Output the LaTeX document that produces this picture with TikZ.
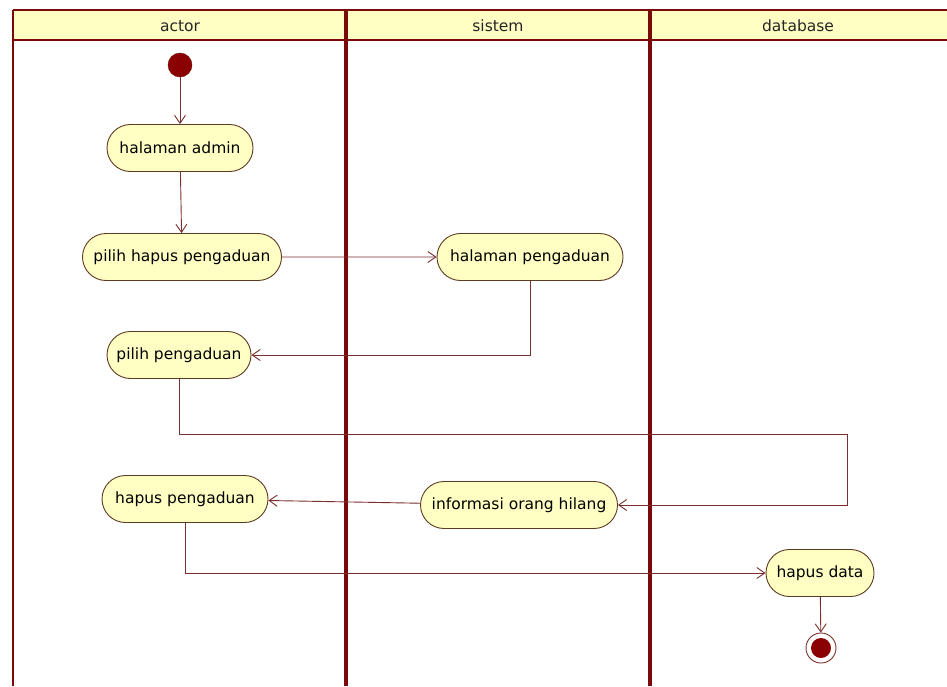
\documentclass[tikz,border=0pt]{standalone}
\usepackage{fontspec}
\setmainfont{DejaVu Sans}
\usetikzlibrary{shapes.misc,arrows.meta}

\definecolor{lane}{HTML}{7A0A0A}
\definecolor{hdrfill}{HTML}{FFFFC4}
\definecolor{actfill}{HTML}{FFFFC4}
\definecolor{actline}{HTML}{5E3A22}
\definecolor{flow}{HTML}{7A2E2E}
\definecolor{dot}{HTML}{8B0000}

\tikzset{
  activity/.style={rounded rectangle, draw=actline, fill=actfill, line width=0.9pt,
    minimum height=47pt, inner xsep=4pt, font=\fontsize{15.5}{18}\selectfont},
  flowline/.style={draw=flow, line width=0.9pt,
    -{Straight Barb[length=8pt,width=11pt,line width=0.9pt]}},
  lanetitle/.style={font=\fontsize{15.5}{18}\selectfont, text=black!85},
}

\begin{document}
\begin{tikzpicture}[x=1pt,y=-1pt]
\useasboundingbox (0,0) rectangle (947,686);
\fill[white] (0,0) rectangle (947,686);

% swimlane header band
\fill[hdrfill] (13,10) rectangle (947,40);
\draw[lane, line width=2pt] (13,10) -- (947,10);
\draw[lane, line width=2pt] (13,40) -- (947,40);

% lane borders
\draw[lane, line width=2.5pt] (13,10) -- (13,686);
\draw[lane, line width=4.5pt] (346,10) -- (346,686);
\draw[lane, line width=4.5pt] (650,10) -- (650,686);

% lane titles
\node[lanetitle] (tActor) at (180,26) {actor};
\node[lanetitle] (tSistem) at (498,26) {sistem};
\node[lanetitle] (tDb) at (798,26) {database};

% activities
\node[circle, fill=dot, draw=dot!80!black, minimum size=24pt, inner sep=0pt] (start) at (180,65) {};
\node[activity, minimum width=154pt] (admin) at (180,148) {halaman admin};
\node[activity, minimum width=207pt] (pilihhapus) at (182,257) {pilih hapus pengaduan};
\node[activity, minimum width=194pt] (halpeng) at (530,257) {halaman pengaduan};
\node[activity, minimum width=152pt] (pilihpeng) at (179,355) {pilih pengaduan};
\node[activity, minimum width=174pt] (hapuspeng) at (185,499) {hapus pengaduan};
\node[activity, minimum width=205pt] (info) at (519,505) {informasi orang hilang};
\node[activity, minimum width=116pt] (hapusdata) at (820,573) {hapus data};
\node[circle, draw=flow, line width=0.9pt, fill=white, minimum size=30pt, inner sep=0pt] (end) at (821,648) {};
\fill[dot] (end.center) circle (10pt);

% bend points
\coordinate (k1) at (847,434);

% control flow
\draw[flowline] (start) -- (admin);
\draw[flowline] (admin) -- (pilihhapus);
\draw[flowline] (pilihhapus) -- (halpeng);
\draw[flowline] (halpeng.south) |- (pilihpeng.east);
\draw[flowline] (pilihpeng.south) |- (k1) |- (info.east);
\draw[flowline] (info) -- (hapuspeng);
\draw[flowline] (hapuspeng.south) |- (hapusdata.west);
\draw[flowline] (hapusdata) -- (end);
\end{tikzpicture}
\end{document}
